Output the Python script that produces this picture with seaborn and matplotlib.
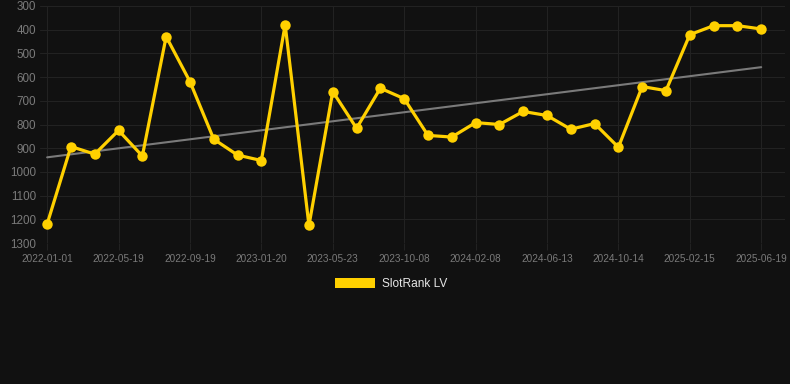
import numpy as np
import pandas as pd
import matplotlib
matplotlib.use("Agg")
import matplotlib.pyplot as plt
from matplotlib.patches import Patch
import seaborn as sns

# rank values (lower is better, axis inverted)
rank = [1220, 893, 925, 825, 933, 429, 619, 862, 929, 952,
        379, 1226, 661, 816, 647, 691, 846, 853, 792, 800,
        745, 762, 820, 796, 896, 640, 657, 421, 383, 383, 397]
tick_labels = ["2022-01-01", "2022-05-19", "2022-09-19", "2023-01-20",
               "2023-05-23", "2023-10-08", "2024-02-08", "2024-06-13",
               "2024-10-14", "2025-02-15", "2025-06-19"]
y_ticks = [300, 400, 500, 600, 700, 800, 900, 1000, 1100, 1200, 1300]

bg = "#111111"
gold = "#FFD000"

df = pd.DataFrame({"idx": np.arange(len(rank)), "rank": rank})

sns.set_theme(style="dark")
plt.rcParams["font.family"] = ["Liberation Sans", "DejaVu Sans"]

fig = plt.figure(figsize=(7.9, 3.84), dpi=100, facecolor=bg)
ax = fig.add_axes([40 / 790, 1 - 243 / 384, 745 / 790, 237 / 384])
ax.set_facecolor(bg)

# trend line (linear fit)
coef = np.polyfit(df["idx"], df["rank"], 1)
df["trend"] = np.polyval(coef, df["idx"])
sns.lineplot(data=df, x="idx", y="trend", ax=ax, color="#7a7a7a", linewidth=1.5)

sns.lineplot(data=df, x="idx", y="rank", ax=ax, color=gold, linewidth=2.3,
             marker="o", markersize=7.5, markeredgewidth=0)

ax.set_ylim(1300, 300)
ax.set_xlim(-0.3, 31.0)
ax.set_yticks(y_ticks)
ax.set_xticks(np.arange(0, len(rank), 3))
ax.set_xticklabels(tick_labels)
ax.set_xlabel("")
ax.set_ylabel("")
ax.grid(True, color="#222222", linewidth=0.8)
for s in ax.spines.values():
    s.set_visible(False)
ax.tick_params(axis="x", colors="#222222", labelcolor="#7a7a7a", labelsize=7.2,
               length=5, width=0.8, pad=3, bottom=True)
ax.tick_params(axis="y", colors="#222222", labelcolor="#7a7a7a", labelsize=8.4,
               length=0, pad=3)

fig.legend(handles=[Patch(facecolor=gold, edgecolor="none")], labels=["SlotRank LV"],
           loc="center", bbox_to_anchor=(0.495, 1 - 284 / 384), frameon=False,
           fontsize=8.6, labelcolor="#e6e6e6", handlelength=3.3, handleheight=0.9,
           handletextpad=0.6)

fig.savefig("out.png", dpi=100, facecolor=bg)
